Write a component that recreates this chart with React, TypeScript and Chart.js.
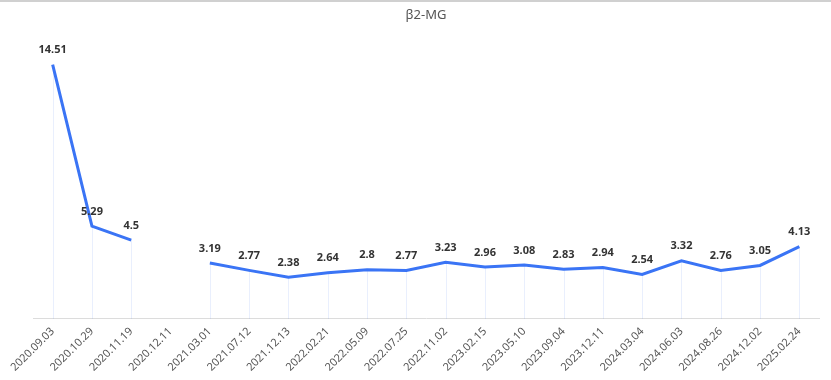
import React, { useEffect, useRef } from "react";
import { Chart, registerables } from "chart.js";

Chart.register(...registerables);

const categories = [
  "2020.09.03", "2020.10.29", "2020.11.19", "2020.12.11", "2021.03.01",
  "2021.07.12", "2021.12.13", "2022.02.21", "2022.05.09", "2022.07.25",
  "2022.11.02", "2023.02.15", "2023.05.10", "2023.09.04", "2023.12.11",
  "2024.03.04", "2024.06.03", "2024.08.26", "2024.12.02", "2025.02.24",
];
const values: (number | null)[] = [
  14.51, 5.29, 4.5, null, 3.19, 2.77, 2.38, 2.64, 2.8, 2.77,
  3.23, 2.96, 3.08, 2.83, 2.94, 2.54, 3.32, 2.76, 3.05, 4.13,
];
const titleText = "β2-MG";

const FONT = "'Noto Sans', 'DejaVu Sans', sans-serif";

const dropAndLabels = {
  id: "dropAndLabels",
  beforeDatasetsDraw(chart: any) {
    const ctx = chart.ctx;
    const meta = chart.getDatasetMeta(0);
    const bottom = chart.chartArea.bottom;
    ctx.save();
    ctx.strokeStyle = "rgba(70,120,240,0.12)";
    ctx.lineWidth = 1;
    meta.data.forEach((pt: any, i: number) => {
      if (values[i] == null) return;
      const x = Math.round(pt.x) + 0.5;
      ctx.beginPath();
      ctx.moveTo(x, pt.y);
      ctx.lineTo(x, bottom);
      ctx.stroke();
    });
    ctx.restore();
  },
  afterDatasetsDraw(chart: any) {
    const ctx = chart.ctx;
    const meta = chart.getDatasetMeta(0);
    ctx.save();
    ctx.fillStyle = "#333";
    ctx.font = `bold 11px ${FONT}`;
    ctx.textAlign = "center";
    ctx.textBaseline = "bottom";
    meta.data.forEach((pt: any, i: number) => {
      const v = values[i];
      if (v == null) return;
      ctx.fillText(String(v), pt.x, pt.y - 9);
    });
    ctx.restore();
  },
};

export default function App() {
  const ref = useRef<HTMLCanvasElement>(null);
  useEffect(() => {
    if (!ref.current) return;
    const chart = new Chart(ref.current, {
      type: "line",
      data: {
        labels: categories,
        datasets: [
          {
            data: values,
            borderColor: "#3a74f5",
            borderWidth: 3,
            pointRadius: 0,
            pointHoverRadius: 0,
            tension: 0,
            spanGaps: false,
            fill: false,
          },
        ],
      },
      options: {
        animation: false,
        responsive: false,
        maintainAspectRatio: false,
        layout: { padding: { left: 33, right: 12, top: 1, bottom: 0 } },
        plugins: {
          legend: { display: false },
          tooltip: { enabled: false },
          title: {
            display: true,
            text: titleText,
            color: "#555",
            font: { size: 13, family: FONT, weight: "normal" },
            padding: { top: 4, bottom: 16 },
          },
        },
        scales: {
          x: {
            offset: true,
            grid: { display: false, drawTicks: false },
            border: { display: true, color: "#dcdcdc", width: 1 },
            ticks: {
              color: "#555",
              font: { size: 11, family: FONT },
              minRotation: 45,
              maxRotation: 45,
              autoSkip: false,
              padding: 6,
            },
          },
          y: {
            display: false,
            min: 0,
            max: 16,
          },
        },
      },
      plugins: [dropAndLabels],
    });
    return () => chart.destroy();
  }, []);
  return (
    <div
      style={{
        position: "fixed",
        left: 0,
        top: 0,
        width: 831,
        height: 380,
        background: "#fff",
        borderTop: "2px solid #d0d0d0",
        boxSizing: "border-box",
      }}
    >
      <canvas ref={ref} width={831} height={378} style={{ display: "block" }} />
    </div>
  );
}
